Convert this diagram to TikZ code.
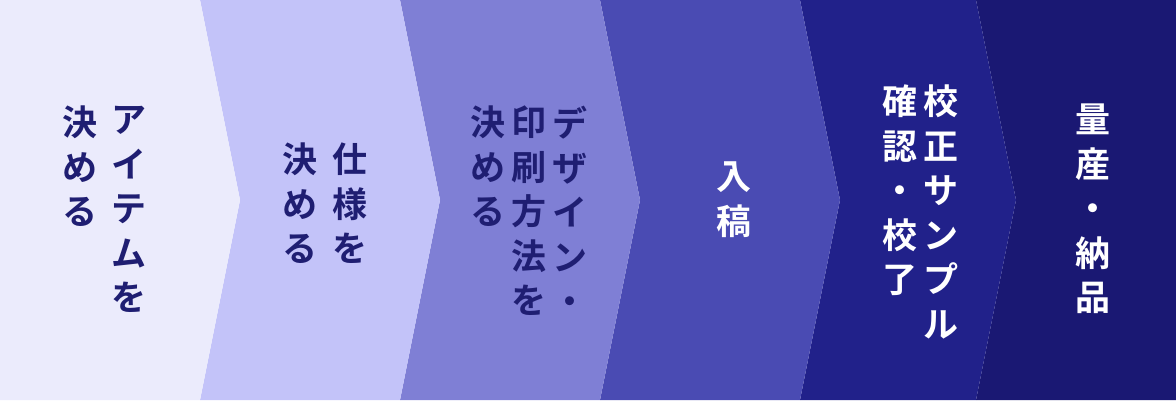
\documentclass[tikz,border=0pt]{standalone}
\usepackage{fontspec}
\newfontfamily\jp{Noto Sans CJK JP}[BoldFont=* Bold]
\definecolor{pA}{HTML}{EBEBFC}
\definecolor{pB}{HTML}{C3C3F9}
\definecolor{pC}{HTML}{7F7FD5}
\definecolor{pD}{HTML}{4A4BB3}
\definecolor{pE}{HTML}{21218A}
\definecolor{pF}{HTML}{1A1873}
\definecolor{ink}{HTML}{1F1E72}
\begin{document}
\begin{tikzpicture}[x=1pt,y=-1pt,
  vcol/.style={anchor=north,inner sep=0pt,align=center,
    font=\jp\bfseries\fontsize{35}{44.5}\selectfont},
  dark/.style={vcol,text=ink},
  light/.style={vcol,text=white}]
\useasboundingbox (0,0) rectangle (1176,400);
% panels
\fill[pF] (976,0) -- (1176,0) -- (1176,400) -- (976,400) -- (1016,200) -- cycle;
\fill[pE] (800,0) -- (976,0) -- (1016,200) -- (976,400) -- (800,400) -- (840,200) -- cycle;
\fill[pD] (600,0) -- (800,0) -- (840,200) -- (800,400) -- (600,400) -- (640,200) -- cycle;
\fill[pC] (400,0) -- (600,0) -- (640,200) -- (600,400) -- (400,400) -- (440,200) -- cycle;
\fill[pB] (200,0) -- (400,0) -- (440,200) -- (400,400) -- (200,400) -- (240,200) -- cycle;
\fill[pA] (0,0) -- (200,0) -- (240,200) -- (200,400) -- (0,400) -- cycle;
% texts
\node[dark] (a1) at (129,106) {ア\\イ\\テ\\ム\\を};
\node[dark] (a2) at (80,106) {決\\め\\る};
\node[dark] (b1) at (350,143) {仕\\様\\を};
\node[dark] (b2) at (300,143) {決\\め\\る};
\node[dark] (c1) at (570,106) {デ\\ザ\\イ\\ン\\・};
\node[dark] (c2) at (529,106) {印\\刷\\方\\法\\を};
\node[dark] (c3) at (488,106) {決\\め\\る};
\node[light] (d1) at (734,162) {入\\稿};
\node[light] (e1) at (941,85) {校\\正\\サ\\ン\\プ\\ル};
\node[light] (e2) at (900,85) {確\\認\\・\\校\\了};
\node[light] (f1) at (1093,104) {量\\産\\・\\納\\品};
\end{tikzpicture}
\end{document}
